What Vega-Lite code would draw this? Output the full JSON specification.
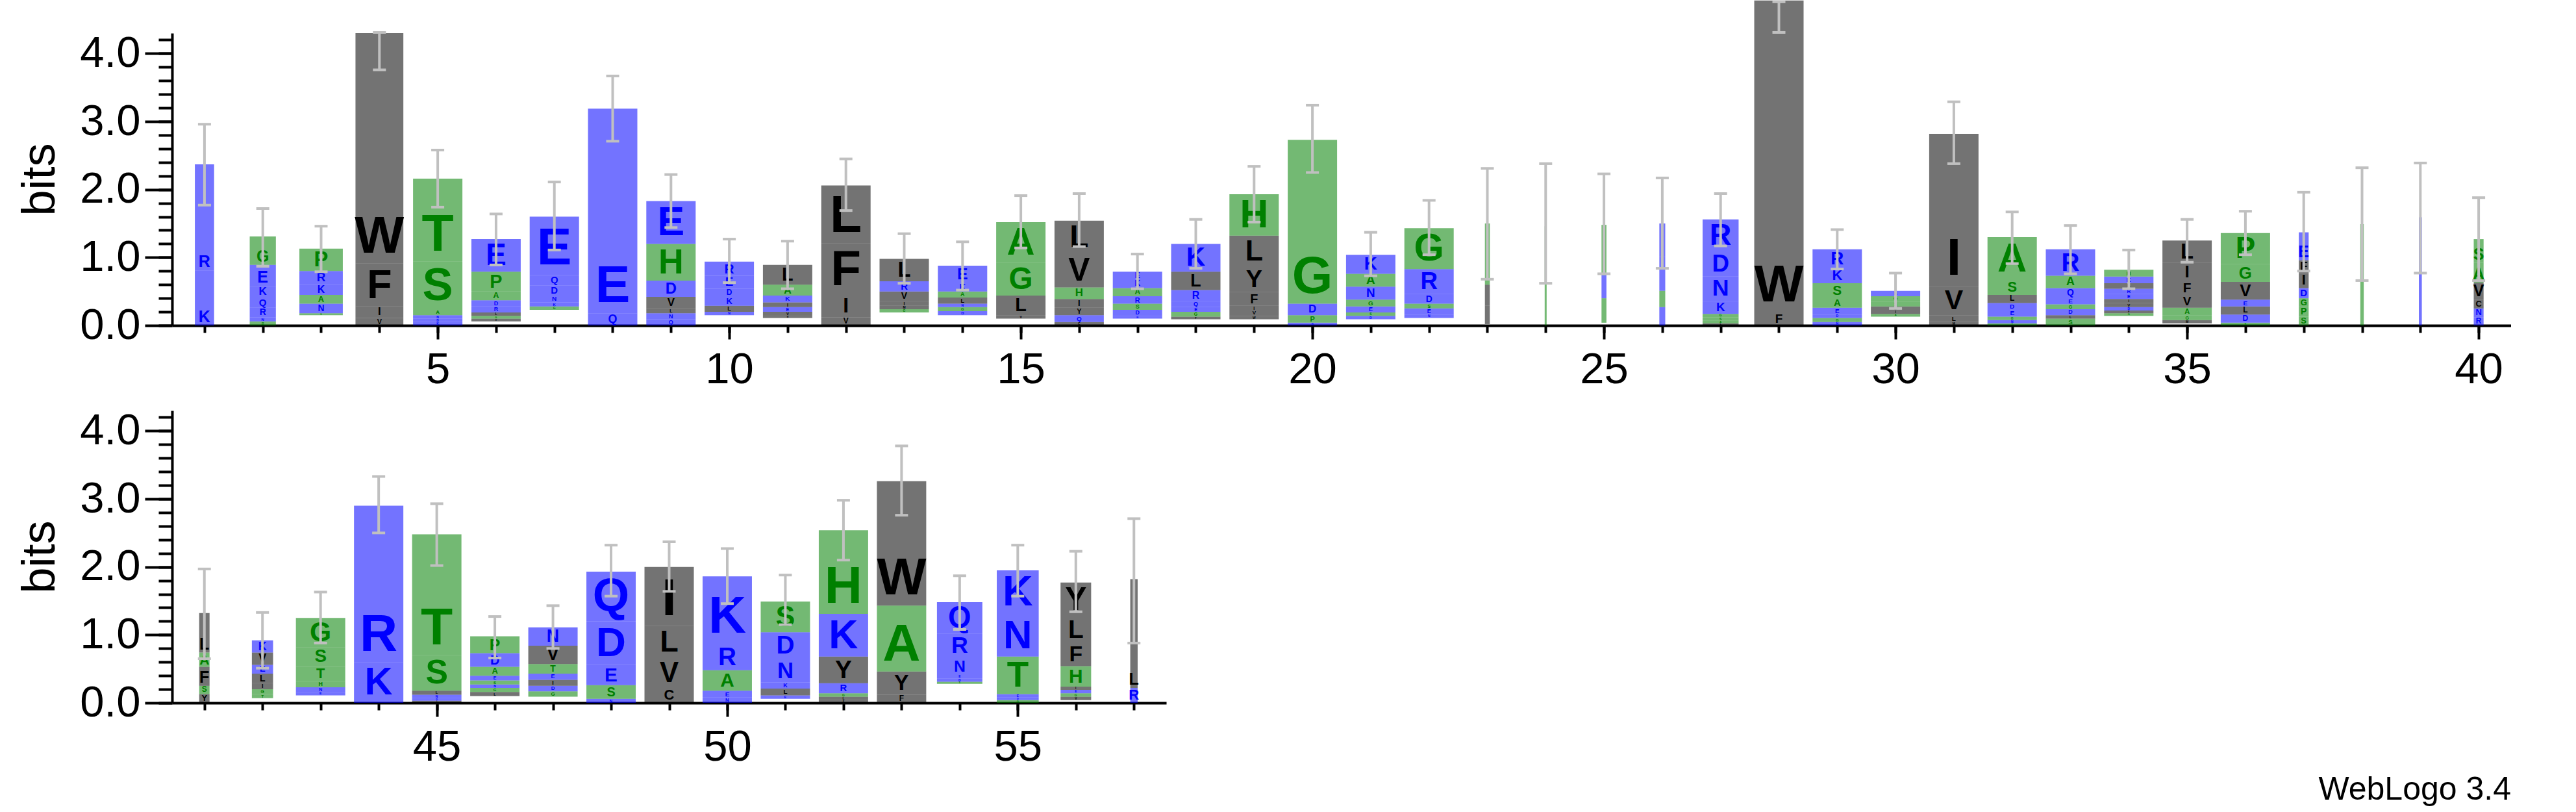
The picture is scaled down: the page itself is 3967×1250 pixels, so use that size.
{
"$schema": "https://vega.github.io/schema/vega-lite/v6.json",
"autosize": {"type": "pad"},
"padding": {"left": 25, "top": 0, "right": 0, "bottom": 0},
"background": "white",
"config": {"view": {"stroke": null}, "font": "Liberation Sans"},
"title": {"text": "WebLogo 3.4", "orient": "bottom", "anchor": "end", "fontSize": 50, "fontWeight": "normal", "font": "Liberation Sans", "color": "black", "offset": 8},
"spacing": 27,
"datasets": {
"cols": [
{"pos":1,"occ":0.39,"lo":1.77,"hi":2.96},{"pos":2,"occ":0.53,"lo":0.87,"hi":1.72},{"pos":3,"occ":0.88,"lo":0.79,"hi":1.46},{"pos":4,"occ":0.97,"lo":3.76,"hi":4.31},{"pos":5,"occ":1,"lo":1.74,"hi":2.58},
{"pos":6,"occ":1,"lo":0.89,"hi":1.64},{"pos":7,"occ":1,"lo":1.11,"hi":2.11},{"pos":8,"occ":1,"lo":2.71,"hi":3.67},{"pos":9,"occ":1,"lo":1.44,"hi":2.22},{"pos":10,"occ":1,"lo":0.63,"hi":1.27},
{"pos":11,"occ":1,"lo":0.54,"hi":1.24},{"pos":12,"occ":1,"lo":1.69,"hi":2.45},{"pos":13,"occ":1,"lo":0.62,"hi":1.35},{"pos":14,"occ":1,"lo":0.52,"hi":1.23},{"pos":15,"occ":1,"lo":1.14,"hi":1.91},
{"pos":16,"occ":1,"lo":1.16,"hi":1.94},{"pos":17,"occ":1,"lo":0.54,"hi":1.05},{"pos":18,"occ":1,"lo":0.84,"hi":1.56},{"pos":19,"occ":1,"lo":1.52,"hi":2.34},{"pos":20,"occ":1,"lo":2.25,"hi":3.24},
{"pos":21,"occ":1,"lo":0.73,"hi":1.37},{"pos":22,"occ":1,"lo":1.04,"hi":1.84},{"pos":23,"occ":0.1,"lo":0.68,"hi":2.31},{"pos":24,"occ":0.04,"lo":0.62,"hi":2.38},{"pos":25,"occ":0.1,"lo":0.76,"hi":2.23},
{"pos":26,"occ":0.12,"lo":0.84,"hi":2.17},{"pos":27,"occ":0.73,"lo":1.17,"hi":1.94},{"pos":28,"occ":1,"lo":4.31,"hi":4.76},{"pos":29,"occ":1,"lo":0.83,"hi":1.41},{"pos":30,"occ":1,"lo":0.25,"hi":0.77},
{"pos":31,"occ":1,"lo":2.38,"hi":3.29},{"pos":32,"occ":1,"lo":0.91,"hi":1.67},{"pos":33,"occ":1,"lo":0.76,"hi":1.47},{"pos":34,"occ":1,"lo":0.54,"hi":1.11},{"pos":35,"occ":1,"lo":0.93,"hi":1.56},
{"pos":36,"occ":1,"lo":1.04,"hi":1.68},{"pos":37,"occ":0.2,"lo":0.8,"hi":1.96},{"pos":38,"occ":0.07,"lo":0.66,"hi":2.32},{"pos":39,"occ":0.06,"lo":0.77,"hi":2.39},{"pos":40,"occ":0.2,"lo":0.66,"hi":1.88},
{"pos":41,"occ":0.21,"lo":0.65,"hi":1.97},{"pos":42,"occ":0.43,"lo":0.51,"hi":1.33},{"pos":43,"occ":1,"lo":0.88,"hi":1.63},{"pos":44,"occ":1,"lo":2.5,"hi":3.33},{"pos":45,"occ":1,"lo":2.02,"hi":2.93},
{"pos":46,"occ":1,"lo":0.66,"hi":1.27},{"pos":47,"occ":1,"lo":0.8,"hi":1.43},{"pos":48,"occ":1,"lo":1.57,"hi":2.32},{"pos":49,"occ":1,"lo":1.64,"hi":2.37},{"pos":50,"occ":1,"lo":1.46,"hi":2.27},
{"pos":51,"occ":1,"lo":1.15,"hi":1.88},{"pos":52,"occ":1,"lo":2.1,"hi":2.98},{"pos":53,"occ":1,"lo":2.76,"hi":3.78},{"pos":54,"occ":0.92,"lo":1.08,"hi":1.87},{"pos":55,"occ":0.85,"lo":1.57,"hi":2.32},
{"pos":56,"occ":0.62,"lo":1.34,"hi":2.23},{"pos":57,"occ":0.15,"lo":0.88,"hi":2.71}
],
"letters": [
{"pos":1,"aa":"K","bits":0.81},{"pos":1,"aa":"R","bits":1.56},
{"pos":2,"aa":"S","bits":0.06},{"pos":2,"aa":"N","bits":0.06},{"pos":2,"aa":"R","bits":0.14},{"pos":2,"aa":"Q","bits":0.15},{"pos":2,"aa":"K","bits":0.17},{"pos":2,"aa":"E","bits":0.31},{"pos":2,"aa":"G","bits":0.42},
{"pos":3,"aa":"x","bits":0.15},{"pos":3,"aa":"G","bits":0.03},{"pos":3,"aa":"N","bits":0.14},{"pos":3,"aa":"A","bits":0.13},{"pos":3,"aa":"K","bits":0.16},{"pos":3,"aa":"R","bits":0.19},{"pos":3,"aa":"P","bits":0.33},
{"pos":4,"aa":"V","bits":0.11},{"pos":4,"aa":"I","bits":0.17},{"pos":4,"aa":"F","bits":0.63},{"pos":4,"aa":"W","bits":3.39},
{"pos":5,"aa":"K","bits":0.05},{"pos":5,"aa":"D","bits":0.05},{"pos":5,"aa":"N","bits":0.05},{"pos":5,"aa":"A","bits":0.08},{"pos":5,"aa":"S","bits":0.71},{"pos":5,"aa":"T","bits":1.22},
{"pos":6,"aa":"x","bits":0.06},{"pos":6,"aa":"V","bits":0.04},{"pos":6,"aa":"G","bits":0.04},{"pos":6,"aa":"L","bits":0.05},{"pos":6,"aa":"R","bits":0.09},{"pos":6,"aa":"D","bits":0.09},{"pos":6,"aa":"A","bits":0.13},{"pos":6,"aa":"P","bits":0.29},{"pos":6,"aa":"E","bits":0.48},
{"pos":7,"aa":"x","bits":0.23},{"pos":7,"aa":"G","bits":0.05},{"pos":7,"aa":"K","bits":0.06},{"pos":7,"aa":"N","bits":0.10},{"pos":7,"aa":"D","bits":0.15},{"pos":7,"aa":"Q","bits":0.15},{"pos":7,"aa":"E","bits":0.86},
{"pos":8,"aa":"Q","bits":0.18},{"pos":8,"aa":"E","bits":3.01},
{"pos":9,"aa":"Q","bits":0.09},{"pos":9,"aa":"N","bits":0.09},{"pos":9,"aa":"L","bits":0.07},{"pos":9,"aa":"V","bits":0.17},{"pos":9,"aa":"D","bits":0.24},{"pos":9,"aa":"H","bits":0.54},{"pos":9,"aa":"E","bits":0.63},
{"pos":10,"aa":"x","bits":0.15},{"pos":10,"aa":"N","bits":0.05},{"pos":10,"aa":"L","bits":0.09},{"pos":10,"aa":"K","bits":0.13},{"pos":10,"aa":"D","bits":0.12},{"pos":10,"aa":"E","bits":0.19},{"pos":10,"aa":"R","bits":0.21},
{"pos":11,"aa":"x","bits":0.11},{"pos":11,"aa":"M","bits":0.03},{"pos":11,"aa":"V","bits":0.06},{"pos":11,"aa":"E","bits":0.07},{"pos":11,"aa":"I","bits":0.07},{"pos":11,"aa":"K","bits":0.10},{"pos":11,"aa":"A","bits":0.16},{"pos":11,"aa":"L","bits":0.29},
{"pos":12,"aa":"V","bits":0.12},{"pos":12,"aa":"I","bits":0.32},{"pos":12,"aa":"F","bits":0.77},{"pos":12,"aa":"L","bits":0.85},
{"pos":13,"aa":"x","bits":0.19},{"pos":13,"aa":"G","bits":0.05},{"pos":13,"aa":"M","bits":0.05},{"pos":13,"aa":"I","bits":0.07},{"pos":13,"aa":"V","bits":0.14},{"pos":13,"aa":"R","bits":0.15},{"pos":13,"aa":"L","bits":0.33},
{"pos":14,"aa":"x","bits":0.15},{"pos":14,"aa":"D","bits":0.06},{"pos":14,"aa":"G","bits":0.06},{"pos":14,"aa":"N","bits":0.05},{"pos":14,"aa":"L","bits":0.09},{"pos":14,"aa":"A","bits":0.09},{"pos":14,"aa":"K","bits":0.13},{"pos":14,"aa":"E","bits":0.25},
{"pos":15,"aa":"x","bits":0.10},{"pos":15,"aa":"V","bits":0.05},{"pos":15,"aa":"L","bits":0.29},{"pos":15,"aa":"G","bits":0.48},{"pos":15,"aa":"A","bits":0.60},
{"pos":16,"aa":"C","bits":0.05},{"pos":16,"aa":"Q","bits":0.10},{"pos":16,"aa":"Y","bits":0.11},{"pos":16,"aa":"I","bits":0.13},{"pos":16,"aa":"H","bits":0.17},{"pos":16,"aa":"V","bits":0.50},{"pos":16,"aa":"L","bits":0.48},
{"pos":17,"aa":"x","bits":0.10},{"pos":17,"aa":"N","bits":0.04},{"pos":17,"aa":"D","bits":0.09},{"pos":17,"aa":"S","bits":0.09},{"pos":17,"aa":"R","bits":0.11},{"pos":17,"aa":"A","bits":0.12},{"pos":17,"aa":"K","bits":0.12},{"pos":17,"aa":"E","bits":0.12},
{"pos":18,"aa":"x","bits":0.09},{"pos":18,"aa":"F","bits":0.04},{"pos":18,"aa":"G","bits":0.07},{"pos":18,"aa":"E","bits":0.07},{"pos":18,"aa":"Q","bits":0.09},{"pos":18,"aa":"R","bits":0.16},{"pos":18,"aa":"L","bits":0.27},{"pos":18,"aa":"K","bits":0.41},
{"pos":19,"aa":"x","bits":0.09},{"pos":19,"aa":"W","bits":0.05},{"pos":19,"aa":"V","bits":0.08},{"pos":19,"aa":"I","bits":0.07},{"pos":19,"aa":"F","bits":0.20},{"pos":19,"aa":"Y","bits":0.38},{"pos":19,"aa":"L","bits":0.45},{"pos":19,"aa":"H","bits":0.61},
{"pos":20,"aa":"N","bits":0.04},{"pos":20,"aa":"P","bits":0.11},{"pos":20,"aa":"D","bits":0.17},{"pos":20,"aa":"G","bits":2.41},
{"pos":21,"aa":"x","bits":0.09},{"pos":21,"aa":"D","bits":0.05},{"pos":21,"aa":"S","bits":0.05},{"pos":21,"aa":"E","bits":0.09},{"pos":21,"aa":"G","bits":0.10},{"pos":21,"aa":"N","bits":0.19},{"pos":21,"aa":"A","bits":0.19},{"pos":21,"aa":"K","bits":0.28},
{"pos":22,"aa":"x","bits":0.11},{"pos":22,"aa":"N","bits":0.05},{"pos":22,"aa":"E","bits":0.09},{"pos":22,"aa":"S","bits":0.07},{"pos":22,"aa":"D","bits":0.14},{"pos":22,"aa":"R","bits":0.37},{"pos":22,"aa":"G","bits":0.60},
{"pos":23,"aa":"x","bits":0.02},{"pos":23,"aa":"W","bits":0.27},{"pos":23,"aa":"L","bits":0.31},{"pos":23,"aa":"T","bits":0.90},
{"pos":24,"aa":"G","bits":1.46},
{"pos":25,"aa":"x","bits":0.04},{"pos":25,"aa":"S","bits":0.36},{"pos":25,"aa":"K","bits":0.34},{"pos":25,"aa":"T","bits":0.74},
{"pos":26,"aa":"Q","bits":0.27},{"pos":26,"aa":"G","bits":0.24},{"pos":26,"aa":"N","bits":0.50},{"pos":26,"aa":"D","bits":0.49},
{"pos":27,"aa":"L","bits":0.03},{"pos":27,"aa":"A","bits":0.04},{"pos":27,"aa":"S","bits":0.05},{"pos":27,"aa":"G","bits":0.05},{"pos":27,"aa":"K","bits":0.19},{"pos":27,"aa":"N","bits":0.36},{"pos":27,"aa":"D","bits":0.37},{"pos":27,"aa":"R","bits":0.47},
{"pos":28,"aa":"F","bits":0.19},{"pos":28,"aa":"W","bits":4.59},
{"pos":29,"aa":"N","bits":0.05},{"pos":29,"aa":"G","bits":0.06},{"pos":29,"aa":"D","bits":0.05},{"pos":29,"aa":"E","bits":0.10},{"pos":29,"aa":"A","bits":0.15},{"pos":29,"aa":"S","bits":0.21},{"pos":29,"aa":"K","bits":0.22},{"pos":29,"aa":"R","bits":0.28},
{"pos":30,"aa":"x","bits":0.13},{"pos":30,"aa":"A","bits":0.04},{"pos":30,"aa":"I","bits":0.05},{"pos":30,"aa":"L","bits":0.06},{"pos":30,"aa":"S","bits":0.07},{"pos":30,"aa":"G","bits":0.08},{"pos":30,"aa":"E","bits":0.08},
{"pos":31,"aa":"M","bits":0.05},{"pos":31,"aa":"L","bits":0.10},{"pos":31,"aa":"V","bits":0.43},{"pos":31,"aa":"I","bits":2.24},
{"pos":32,"aa":"T","bits":0.03},{"pos":32,"aa":"N","bits":0.05},{"pos":32,"aa":"G","bits":0.05},{"pos":32,"aa":"E","bits":0.10},{"pos":32,"aa":"D","bits":0.10},{"pos":32,"aa":"L","bits":0.12},{"pos":32,"aa":"S","bits":0.22},{"pos":32,"aa":"A","bits":0.63},
{"pos":33,"aa":"S","bits":0.10},{"pos":33,"aa":"L","bits":0.05},{"pos":33,"aa":"D","bits":0.09},{"pos":33,"aa":"G","bits":0.07},{"pos":33,"aa":"E","bits":0.10},{"pos":33,"aa":"Q","bits":0.14},{"pos":33,"aa":"A","bits":0.18},{"pos":33,"aa":"R","bits":0.39},
{"pos":34,"aa":"x","bits":0.14},{"pos":34,"aa":"G","bits":0.04},{"pos":34,"aa":"F","bits":0.04},{"pos":34,"aa":"D","bits":0.05},{"pos":34,"aa":"V","bits":0.06},{"pos":34,"aa":"I","bits":0.06},{"pos":34,"aa":"E","bits":0.07},{"pos":34,"aa":"R","bits":0.08},{"pos":34,"aa":"L","bits":0.08},{"pos":34,"aa":"K","bits":0.10},{"pos":34,"aa":"H","bits":0.10},
{"pos":35,"aa":"x","bits":0.03},{"pos":35,"aa":"M","bits":0.05},{"pos":35,"aa":"G","bits":0.07},{"pos":35,"aa":"A","bits":0.11},{"pos":35,"aa":"V","bits":0.19},{"pos":35,"aa":"F","bits":0.21},{"pos":35,"aa":"I","bits":0.26},{"pos":35,"aa":"L","bits":0.33},
{"pos":36,"aa":"S","bits":0.04},{"pos":36,"aa":"D","bits":0.12},{"pos":36,"aa":"L","bits":0.12},{"pos":36,"aa":"E","bits":0.10},{"pos":36,"aa":"V","bits":0.26},{"pos":36,"aa":"G","bits":0.26},{"pos":36,"aa":"P","bits":0.46},
{"pos":37,"aa":"S","bits":0.13},{"pos":37,"aa":"P","bits":0.14},{"pos":37,"aa":"G","bits":0.13},{"pos":37,"aa":"D","bits":0.15},{"pos":37,"aa":"I","bits":0.22},{"pos":37,"aa":"F","bits":0.19},{"pos":37,"aa":"E","bits":0.41},
{"pos":38,"aa":"G","bits":1.49},
{"pos":39,"aa":"D","bits":1.59},
{"pos":40,"aa":"R","bits":0.12},{"pos":40,"aa":"N","bits":0.13},{"pos":40,"aa":"C","bits":0.13},{"pos":40,"aa":"V","bits":0.25},{"pos":40,"aa":"A","bits":0.29},{"pos":40,"aa":"S","bits":0.35},
{"pos":41,"aa":"Y","bits":0.13},{"pos":41,"aa":"S","bits":0.12},{"pos":41,"aa":"F","bits":0.28},{"pos":41,"aa":"A","bits":0.21},{"pos":41,"aa":"L","bits":0.58},
{"pos":42,"aa":"x","bits":0.07},{"pos":42,"aa":"T","bits":0.06},{"pos":42,"aa":"G","bits":0.07},{"pos":42,"aa":"I","bits":0.09},{"pos":42,"aa":"L","bits":0.14},{"pos":42,"aa":"E","bits":0.13},{"pos":42,"aa":"V","bits":0.18},{"pos":42,"aa":"K","bits":0.18},
{"pos":43,"aa":"x","bits":0.11},{"pos":43,"aa":"E","bits":0.05},{"pos":43,"aa":"N","bits":0.07},{"pos":43,"aa":"H","bits":0.09},{"pos":43,"aa":"T","bits":0.22},{"pos":43,"aa":"S","bits":0.28},{"pos":43,"aa":"G","bits":0.43},
{"pos":44,"aa":"K","bits":0.60},{"pos":44,"aa":"R","bits":2.30},
{"pos":45,"aa":"I","bits":0.03},{"pos":45,"aa":"D","bits":0.04},{"pos":45,"aa":"N","bits":0.05},{"pos":45,"aa":"L","bits":0.06},{"pos":45,"aa":"S","bits":0.52},{"pos":45,"aa":"T","bits":1.78},
{"pos":46,"aa":"x","bits":0.10},{"pos":46,"aa":"L","bits":0.06},{"pos":46,"aa":"G","bits":0.06},{"pos":46,"aa":"N","bits":0.05},{"pos":46,"aa":"S","bits":0.06},{"pos":46,"aa":"E","bits":0.07},{"pos":46,"aa":"A","bits":0.13},{"pos":46,"aa":"D","bits":0.20},{"pos":46,"aa":"P","bits":0.25},
{"pos":47,"aa":"x","bits":0.09},{"pos":47,"aa":"G","bits":0.08},{"pos":47,"aa":"D","bits":0.08},{"pos":47,"aa":"I","bits":0.09},{"pos":47,"aa":"E","bits":0.09},{"pos":47,"aa":"T","bits":0.14},{"pos":47,"aa":"V","bits":0.27},{"pos":47,"aa":"N","bits":0.27},
{"pos":48,"aa":"N","bits":0.06},{"pos":48,"aa":"S","bits":0.20},{"pos":48,"aa":"E","bits":0.30},{"pos":48,"aa":"D","bits":0.64},{"pos":48,"aa":"Q","bits":0.73},
{"pos":49,"aa":"C","bits":0.22},{"pos":49,"aa":"V","bits":0.44},{"pos":49,"aa":"L","bits":0.47},{"pos":49,"aa":"I","bits":0.87},
{"pos":50,"aa":"N","bits":0.08},{"pos":50,"aa":"E","bits":0.10},{"pos":50,"aa":"A","bits":0.30},{"pos":50,"aa":"R","bits":0.39},{"pos":50,"aa":"K","bits":0.99},
{"pos":51,"aa":"x","bits":0.06},{"pos":51,"aa":"E","bits":0.05},{"pos":51,"aa":"L","bits":0.10},{"pos":51,"aa":"K","bits":0.09},{"pos":51,"aa":"N","bits":0.35},{"pos":51,"aa":"D","bits":0.39},{"pos":51,"aa":"S","bits":0.45},
{"pos":52,"aa":"F","bits":0.04},{"pos":52,"aa":"L","bits":0.05},{"pos":52,"aa":"G","bits":0.05},{"pos":52,"aa":"R","bits":0.15},{"pos":52,"aa":"Y","bits":0.39},{"pos":52,"aa":"K","bits":0.63},{"pos":52,"aa":"H","bits":1.23},
{"pos":53,"aa":"F","bits":0.12},{"pos":53,"aa":"Y","bits":0.34},{"pos":53,"aa":"A","bits":0.97},{"pos":53,"aa":"W","bits":1.83},
{"pos":54,"aa":"x","bits":0.28},{"pos":54,"aa":"S","bits":0.03},{"pos":54,"aa":"D","bits":0.05},{"pos":54,"aa":"E","bits":0.05},{"pos":54,"aa":"N","bits":0.25},{"pos":54,"aa":"R","bits":0.36},{"pos":54,"aa":"Q","bits":0.46},
{"pos":55,"aa":"G","bits":0.04},{"pos":55,"aa":"D","bits":0.04},{"pos":55,"aa":"E","bits":0.05},{"pos":55,"aa":"T","bits":0.55},{"pos":55,"aa":"N","bits":0.62},{"pos":55,"aa":"K","bits":0.65},
{"pos":56,"aa":"x","bits":0.04},{"pos":56,"aa":"V","bits":0.05},{"pos":56,"aa":"G","bits":0.05},{"pos":56,"aa":"E","bits":0.05},{"pos":56,"aa":"I","bits":0.05},{"pos":56,"aa":"H","bits":0.30},{"pos":56,"aa":"F","bits":0.34},{"pos":56,"aa":"L","bits":0.39},{"pos":56,"aa":"Y","bits":0.50},
{"pos":57,"aa":"R","bits":0.22},{"pos":57,"aa":"L","bits":1.60}
]
},
"vconcat": [
{
"width": 3602, "height": 450,
"resolve": {"axis": {"x": "independent", "y": "independent"}, "scale": {"size": "independent"}},
"layer": [
{"data": {"name": "letters"},
 "transform": [{"filter": "datum.pos <= 40"}, {"lookup": "pos", "from": {"data": {"name": "cols"}, "key": "pos", "fields": ["occ"]}}, {"stack": "bits", "groupby": ["pos"], "as": ["b0", "b1"]}],
 "mark": {"type": "bar", "fillOpacity": 0.55},
 "encoding": {
  "x": {"field": "pos", "type": "quantitative", "scale": {"domain": [0.5, 40.5], "nice": false, "zero": false},
        "axis": {"orient": "bottom", "values": [1,2,3,4,5,6,7,8,9,10,11,12,13,14,15,16,17,18,19,20,21,22,23,24,25,26,27,28,29,30,31,32,33,34,35,36,37,38,39,40], "labels": false, "title": null, "tickSize": 11, "tickWidth": 4, "tickColor": "black", "domain": true, "domainWidth": 4, "domainColor": "black", "grid": false}},
  "y": {"field": "b0", "type": "quantitative", "scale": {"domain": [0, 4.3], "nice": false},
        "axis": {"orient": "left", "values": [0,0.2,0.4,0.6,0.8,1,1.2,1.4,1.6,1.8,2,2.2,2.4,2.6,2.8,3,3.2,3.4,3.6,3.8,4,4.2], "labels": false, "title": null, "tickSize": 21, "tickWidth": 4, "tickColor": "black", "domain": true, "domainWidth": 4, "domainColor": "black", "grid": false}},
  "y2": {"field": "b1"},
  "size": {"field": "occ", "type": "quantitative", "scale": {"domain": [0, 1], "range": [0, 76]}, "legend": null},
  "color": {"field": "aa", "type": "nominal", "legend": null, "scale": {"domain": ["A","C","D","E","F","G","H","I","K","L","M","N","P","Q","R","S","T","V","W","Y","x"], "range": ["#008000","#000000","#0000ff","#0000ff","#000000","#008000","#008000","#000000","#0000ff","#000000","#000000","#0000ff","#008000","#0000ff","#0000ff","#008000","#008000","#000000","#000000","#000000","rgba(0,0,0,0)"]}}
 }},
{"data": {"name": "letters"},
 "transform": [{"filter": "datum.pos <= 40"}, {"lookup": "pos", "from": {"data": {"name": "cols"}, "key": "pos", "fields": ["occ"]}}, {"stack": "bits", "groupby": ["pos"], "as": ["b0", "b1"]}, {"filter": "datum.aa !== 'x' && datum.occ >= 0.6"}],
 "mark": {"type": "text", "font": "Liberation Sans", "fontWeight": "bold", "baseline": "bottom", "align": "center"},
 "encoding": {
  "x": {"field": "pos", "type": "quantitative", "scale": {"domain": [0.5, 40.5], "nice": false, "zero": false},
        "axis": {"orient": "bottom", "values": [5,10,15,20,25,30,35,40], "format": "d", "labelFont": "Liberation Sans", "labelFontSize": 67, "labelColor": "black", "labelPadding": 14, "labelOverlap": false, "labelFlush": false, "title": null, "tickSize": 21, "tickWidth": 4, "tickColor": "black", "domain": false, "grid": false}},
  "y": {"field": "b0", "type": "quantitative", "scale": {"domain": [0, 4.3], "nice": false},
        "axis": {"orient": "left", "values": [0,1,2,3,4], "format": ".1f", "labelFont": "Liberation Sans", "labelFontSize": 67, "labelColor": "black", "labelPadding": 7, "labelOverlap": false, "labelFlush": false, "title": "bits", "titleFont": "Liberation Sans", "titleFontSize": 72, "titleFontWeight": "normal", "titleColor": "black", "titlePadding": 24, "tickSize": 42, "tickWidth": 4, "tickColor": "black", "domain": false, "grid": false}},
  "text": {"field": "aa"},
  "size": {"field": "bits", "type": "quantitative", "scale": {"domain": [0, 0.81], "range": [0, 80.5], "clamp": true}, "legend": null},
  "color": {"field": "aa", "type": "nominal", "legend": null}
 }},
{"data": {"name": "letters"},
 "transform": [{"filter": "datum.pos <= 40"}, {"lookup": "pos", "from": {"data": {"name": "cols"}, "key": "pos", "fields": ["occ"]}}, {"stack": "bits", "groupby": ["pos"], "as": ["b0", "b1"]}, {"filter": "datum.aa !== 'x' && datum.occ >= 0.15 && datum.occ < 0.6"}],
 "mark": {"type": "text", "font": "Liberation Sans", "fontWeight": "bold", "baseline": "bottom", "align": "center"},
 "encoding": {
  "x": {"field": "pos", "type": "quantitative", "scale": {"domain": [0.5, 40.5], "nice": false, "zero": false}, "axis": null},
  "y": {"field": "b0", "type": "quantitative", "scale": {"domain": [0, 4.3], "nice": false}, "axis": null},
  "text": {"field": "aa"},
  "size": {"field": "bits", "type": "quantitative", "scale": {"domain": [0, 0.25], "range": [0, 25], "clamp": true}, "legend": null},
  "color": {"field": "aa", "type": "nominal", "legend": null}
 }},
{"data": {"name": "cols"},
 "transform": [{"filter": "datum.pos <= 40"}],
 "mark": {"type": "rule", "color": "#c0c0c0", "strokeWidth": 4},
 "encoding": {
  "x": {"field": "pos", "type": "quantitative", "scale": {"domain": [0.5, 40.5], "nice": false, "zero": false}, "axis": null},
  "y": {"field": "lo", "type": "quantitative", "scale": {"domain": [0, 4.3], "nice": false}, "axis": null},
  "y2": {"field": "hi"}
 }},
{"data": {"name": "cols"},
 "transform": [{"filter": "datum.pos <= 40"}],
 "mark": {"type": "tick", "orient": "horizontal", "color": "#c0c0c0", "size": 20, "thickness": 4, "opacity": 1},
 "encoding": {
  "x": {"field": "pos", "type": "quantitative", "scale": {"domain": [0.5, 40.5], "nice": false, "zero": false}, "axis": null},
  "y": {"field": "lo", "type": "quantitative", "scale": {"domain": [0, 4.3], "nice": false}, "axis": null}
 }},
{"data": {"name": "cols"},
 "transform": [{"filter": "datum.pos <= 40"}],
 "mark": {"type": "tick", "orient": "horizontal", "color": "#c0c0c0", "size": 20, "thickness": 4, "opacity": 1},
 "encoding": {
  "x": {"field": "pos", "type": "quantitative", "scale": {"domain": [0.5, 40.5], "nice": false, "zero": false}, "axis": null},
  "y": {"field": "hi", "type": "quantitative", "scale": {"domain": [0, 4.3], "nice": false}, "axis": null}
 }}
]
},
{
"width": 1531, "height": 450,
"resolve": {"axis": {"x": "independent", "y": "independent"}, "scale": {"size": "independent"}},
"layer": [
{"data": {"name": "letters"},
 "transform": [{"filter": "datum.pos >= 41"}, {"lookup": "pos", "from": {"data": {"name": "cols"}, "key": "pos", "fields": ["occ"]}}, {"stack": "bits", "groupby": ["pos"], "as": ["b0", "b1"]}],
 "mark": {"type": "bar", "fillOpacity": 0.55},
 "encoding": {
  "x": {"field": "pos", "type": "quantitative", "scale": {"domain": [40.5, 57.5], "nice": false, "zero": false},
        "axis": {"orient": "bottom", "values": [41,42,43,44,45,46,47,48,49,50,51,52,53,54,55,56,57], "labels": false, "title": null, "tickSize": 11, "tickWidth": 4, "tickColor": "black", "domain": true, "domainWidth": 4, "domainColor": "black", "grid": false}},
  "y": {"field": "b0", "type": "quantitative", "scale": {"domain": [0, 4.3], "nice": false},
        "axis": {"orient": "left", "values": [0,0.2,0.4,0.6,0.8,1,1.2,1.4,1.6,1.8,2,2.2,2.4,2.6,2.8,3,3.2,3.4,3.6,3.8,4,4.2], "labels": false, "title": null, "tickSize": 21, "tickWidth": 4, "tickColor": "black", "domain": true, "domainWidth": 4, "domainColor": "black", "grid": false}},
  "y2": {"field": "b1"},
  "size": {"field": "occ", "type": "quantitative", "scale": {"domain": [0, 1], "range": [0, 76]}, "legend": null},
  "color": {"field": "aa", "type": "nominal", "legend": null, "scale": {"domain": ["A","C","D","E","F","G","H","I","K","L","M","N","P","Q","R","S","T","V","W","Y","x"], "range": ["#008000","#000000","#0000ff","#0000ff","#000000","#008000","#008000","#000000","#0000ff","#000000","#000000","#0000ff","#008000","#0000ff","#0000ff","#008000","#008000","#000000","#000000","#000000","rgba(0,0,0,0)"]}}
 }},
{"data": {"name": "letters"},
 "transform": [{"filter": "datum.pos >= 41"}, {"lookup": "pos", "from": {"data": {"name": "cols"}, "key": "pos", "fields": ["occ"]}}, {"stack": "bits", "groupby": ["pos"], "as": ["b0", "b1"]}, {"filter": "datum.aa !== 'x' && datum.occ >= 0.6"}],
 "mark": {"type": "text", "font": "Liberation Sans", "fontWeight": "bold", "baseline": "bottom", "align": "center"},
 "encoding": {
  "x": {"field": "pos", "type": "quantitative", "scale": {"domain": [40.5, 57.5], "nice": false, "zero": false},
        "axis": {"orient": "bottom", "values": [45,50,55], "format": "d", "labelFont": "Liberation Sans", "labelFontSize": 67, "labelColor": "black", "labelPadding": 14, "labelOverlap": false, "labelFlush": false, "title": null, "tickSize": 21, "tickWidth": 4, "tickColor": "black", "domain": false, "grid": false}},
  "y": {"field": "b0", "type": "quantitative", "scale": {"domain": [0, 4.3], "nice": false},
        "axis": {"orient": "left", "values": [0,1,2,3,4], "format": ".1f", "labelFont": "Liberation Sans", "labelFontSize": 67, "labelColor": "black", "labelPadding": 7, "labelOverlap": false, "labelFlush": false, "title": "bits", "titleFont": "Liberation Sans", "titleFontSize": 72, "titleFontWeight": "normal", "titleColor": "black", "titlePadding": 24, "tickSize": 42, "tickWidth": 4, "tickColor": "black", "domain": false, "grid": false}},
  "text": {"field": "aa"},
  "size": {"field": "bits", "type": "quantitative", "scale": {"domain": [0, 0.81], "range": [0, 80.5], "clamp": true}, "legend": null},
  "color": {"field": "aa", "type": "nominal", "legend": null}
 }},
{"data": {"name": "letters"},
 "transform": [{"filter": "datum.pos >= 41"}, {"lookup": "pos", "from": {"data": {"name": "cols"}, "key": "pos", "fields": ["occ"]}}, {"stack": "bits", "groupby": ["pos"], "as": ["b0", "b1"]}, {"filter": "datum.aa !== 'x' && datum.occ >= 0.15 && datum.occ < 0.6"}],
 "mark": {"type": "text", "font": "Liberation Sans", "fontWeight": "bold", "baseline": "bottom", "align": "center"},
 "encoding": {
  "x": {"field": "pos", "type": "quantitative", "scale": {"domain": [40.5, 57.5], "nice": false, "zero": false}, "axis": null},
  "y": {"field": "b0", "type": "quantitative", "scale": {"domain": [0, 4.3], "nice": false}, "axis": null},
  "text": {"field": "aa"},
  "size": {"field": "bits", "type": "quantitative", "scale": {"domain": [0, 0.25], "range": [0, 25], "clamp": true}, "legend": null},
  "color": {"field": "aa", "type": "nominal", "legend": null}
 }},
{"data": {"name": "cols"},
 "transform": [{"filter": "datum.pos >= 41"}],
 "mark": {"type": "rule", "color": "#c0c0c0", "strokeWidth": 4},
 "encoding": {
  "x": {"field": "pos", "type": "quantitative", "scale": {"domain": [40.5, 57.5], "nice": false, "zero": false}, "axis": null},
  "y": {"field": "lo", "type": "quantitative", "scale": {"domain": [0, 4.3], "nice": false}, "axis": null},
  "y2": {"field": "hi"}
 }},
{"data": {"name": "cols"},
 "transform": [{"filter": "datum.pos >= 41"}],
 "mark": {"type": "tick", "orient": "horizontal", "color": "#c0c0c0", "size": 20, "thickness": 4, "opacity": 1},
 "encoding": {
  "x": {"field": "pos", "type": "quantitative", "scale": {"domain": [40.5, 57.5], "nice": false, "zero": false}, "axis": null},
  "y": {"field": "lo", "type": "quantitative", "scale": {"domain": [0, 4.3], "nice": false}, "axis": null}
 }},
{"data": {"name": "cols"},
 "transform": [{"filter": "datum.pos >= 41"}],
 "mark": {"type": "tick", "orient": "horizontal", "color": "#c0c0c0", "size": 20, "thickness": 4, "opacity": 1},
 "encoding": {
  "x": {"field": "pos", "type": "quantitative", "scale": {"domain": [40.5, 57.5], "nice": false, "zero": false}, "axis": null},
  "y": {"field": "hi", "type": "quantitative", "scale": {"domain": [0, 4.3], "nice": false}, "axis": null}
 }}
]
}
]
}
